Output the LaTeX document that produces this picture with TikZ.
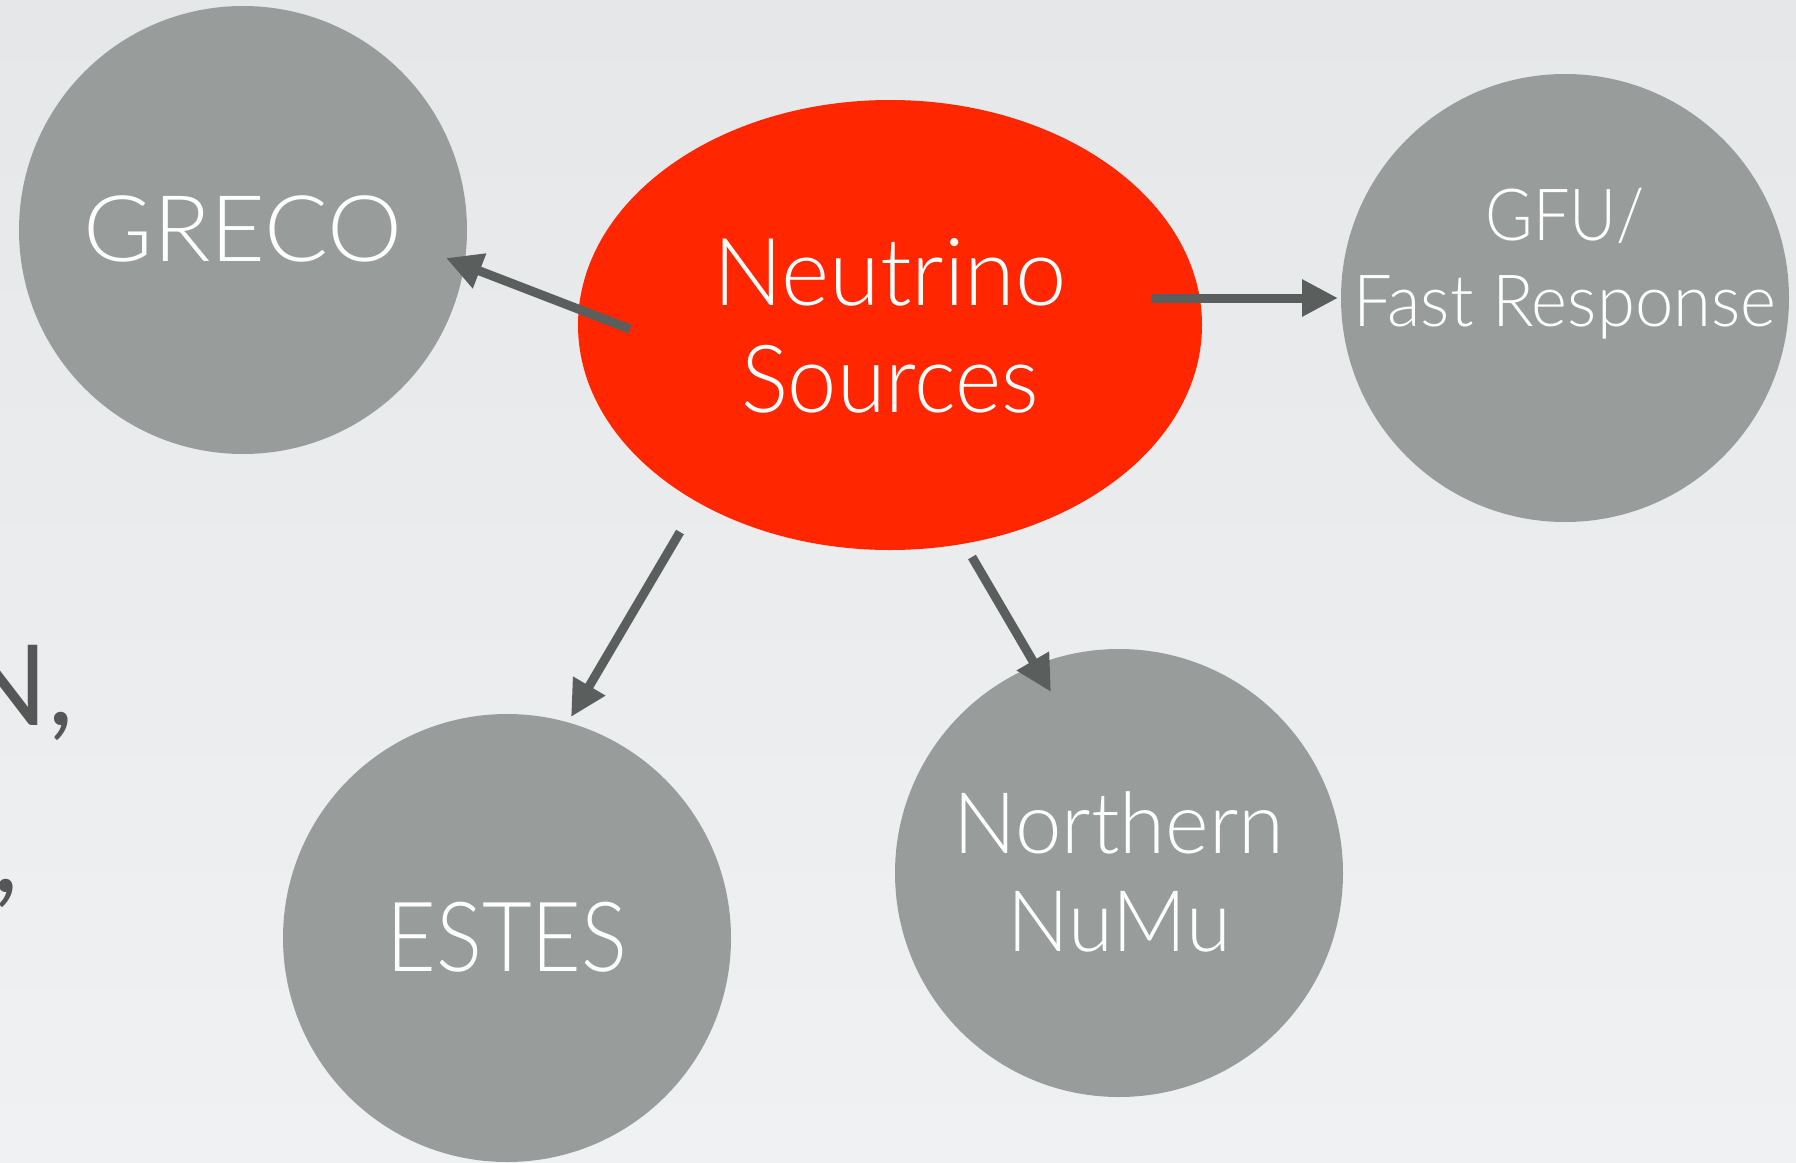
\documentclass[tikz,border=0pt]{standalone}
\usepackage{fontspec}
\newfontfamily\lite{Lato Light}
\newfontfamily\regular{Lato}
\usetikzlibrary{arrows.meta,shapes.geometric}
\definecolor{bgtop}{HTML}{E5E7E9}
\definecolor{bgbot}{HTML}{F0F1F3}
\definecolor{disc}{HTML}{989D9C}
\definecolor{hot}{HTML}{FF2600}
\definecolor{arr}{HTML}{5A5F5D}
\definecolor{ink}{HTML}{555757}
\tikzset{
  disk/.style={circle, fill=disc, minimum size=448pt, inner sep=0pt},
  lbl/.style={anchor=base, text=white, inner sep=0pt, font=\lite},
  link/.style={draw=arr, line width=9pt, -{Triangle[length=36pt,width=35pt]}},
  edge text/.style={anchor=base east, inner sep=0pt, text=ink, font=\regular\fontsize{112}{112}\selectfont},
}
\begin{document}
\begin{tikzpicture}[x=1pt,y=-1pt]
  \useasboundingbox (0,0) rectangle (1796,1162);
  \clip (0,0) rectangle (1796,1162);
  \shade[top color=bgtop, bottom color=bgbot] (0,0) rectangle (1796,1162);

  % text fragments at the left edge
  \node[edge text] (frag1) at (74,725) {N,};
  \node[edge text] (frag2) at (19,892) {,};

  % shapes
  \node[disk] (greco) at (243,230) {};
  \node[disk] (gfu) at (1565,298) {};
  \node[disk] (estes) at (507,938) {};
  \node[disk] (north) at (1119,873) {};
  \node[ellipse, fill=hot, minimum width=624pt, minimum height=450pt, inner sep=0pt] (nu) at (890,325) {};

  % labels
  \node[lbl, xscale=1.03, font=\lite\fontsize{92}{92}\selectfont] (tgreco) at (243,261) {GRECO};
  \node[lbl, xscale=0.98, font=\lite\fontsize{94}{94}\selectfont] (tnu1) at (890,305) {Neutrino};
  \node[lbl, xscale=0.94, font=\lite\fontsize{94}{94}\selectfont] (tnu2) at (890,412) {Sources};
  \node[lbl, xscale=0.90, font=\lite\fontsize{72}{72}\selectfont] (tgfu1) at (1565,240) {GFU/};
  \node[lbl, xscale=0.955, font=\lite\fontsize{72}{72}\selectfont] (tgfu2) at (1565,326) {Fast Response};
  \node[lbl, xscale=0.885, font=\lite\fontsize{97}{97}\selectfont] (testes) at (507,971) {ESTES};
  \node[lbl, xscale=0.98, font=\lite\fontsize{85}{85}\selectfont] (tno1) at (1119,853) {Northern};
  \node[lbl, xscale=0.96, font=\lite\fontsize{85}{85}\selectfont] (tno2) at (1119,951) {NuMu};

  % arrow ends
  \coordinate (a1) at (630,329);  \coordinate (b1) at (446,258);
  \coordinate (a2) at (1151,298); \coordinate (b2) at (1338,298);
  \coordinate (a3) at (680,532);  \coordinate (b3) at (571,717);
  \coordinate (a4) at (972,557);  \coordinate (b4) at (1051,692);

  \draw[link] (a1) -- (b1);
  \draw[link] (a2) -- (b2);
  \draw[link] (a3) -- (b3);
  \draw[link] (a4) -- (b4);
\end{tikzpicture}
\end{document}
